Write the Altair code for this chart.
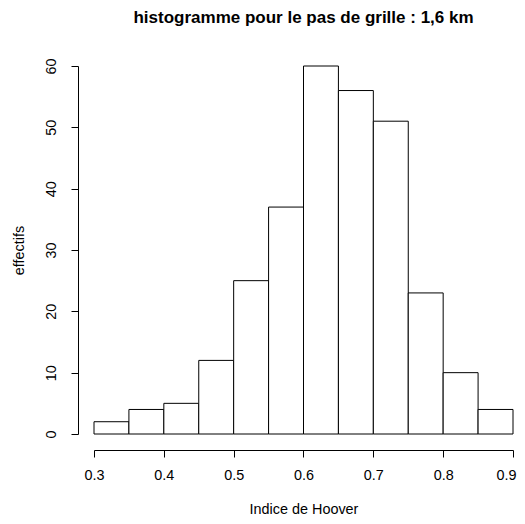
import altair as alt
import pandas as pd

bin_start = [0.30, 0.35, 0.40, 0.45, 0.50, 0.55, 0.60, 0.65, 0.70, 0.75, 0.80, 0.85]
bin_end = [0.35, 0.40, 0.45, 0.50, 0.55, 0.60, 0.65, 0.70, 0.75, 0.80, 0.85, 0.90]
counts = [2, 4, 5, 12, 25, 37, 60, 56, 51, 23, 10, 4]
x_ticks = [0.3, 0.4, 0.5, 0.6, 0.7, 0.8, 0.9]
y_ticks = [0, 10, 20, 30, 40, 50, 60]

df = pd.DataFrame({"start": bin_start, "end": bin_end, "n": counts})

FONT = "Liberation Sans"
FS = 14.4

chart = alt.Chart(df).mark_bar(
    fill="white", stroke="black", strokeWidth=1
).encode(
    x=alt.X("start:Q",
            scale=alt.Scale(domain=[0.3, 0.9], nice=False, zero=False),
            axis=alt.Axis(values=x_ticks, format=".1f", title="Indice de Hoover",
                          offset=16, grid=False, tickSize=7, labelPadding=11,
                          titlePadding=21, labelFlush=False,
                          labelAlign={"condition": {"test": "datum.value > 0.85", "value": "right"},
                                      "value": "center"},
                          labelOffset={"condition": {"test": "datum.value > 0.85", "value": 3},
                                       "value": 0})),
    x2="end:Q",
    y=alt.Y("n:Q",
            scale=alt.Scale(domain=[0, 60], nice=False),
            axis=alt.Axis(values=y_ticks, format="d", title="effectifs",
                          offset=16, grid=False, tickSize=7, labelAngle=-90,
                          labelAlign="center", labelBaseline="middle",
                          labelPadding=20, titlePadding=17, labelFlush=False)),
    y2=alt.datum(0),
).properties(
    width=419,
    height=368,
    title=alt.TitleParams("histogramme pour le pas de grille : 1,6 km",
                          anchor="middle", fontSize=17, fontWeight="bold",
                          font=FONT, offset=31, color="black"),
    autosize=alt.AutoSizeParams(type="none"),
    padding={"left": 86, "top": 58, "right": 4, "bottom": 82},
).configure_view(
    stroke=None
).configure_axis(
    domainColor="black", tickColor="black", labelColor="black", titleColor="black",
    labelFont=FONT, titleFont=FONT, labelFontSize=FS, titleFontSize=FS,
    titleFontWeight="normal", domainWidth=1, tickWidth=1
)

chart.save("out.html", embed_options={"renderer": "svg", "actions": False})
